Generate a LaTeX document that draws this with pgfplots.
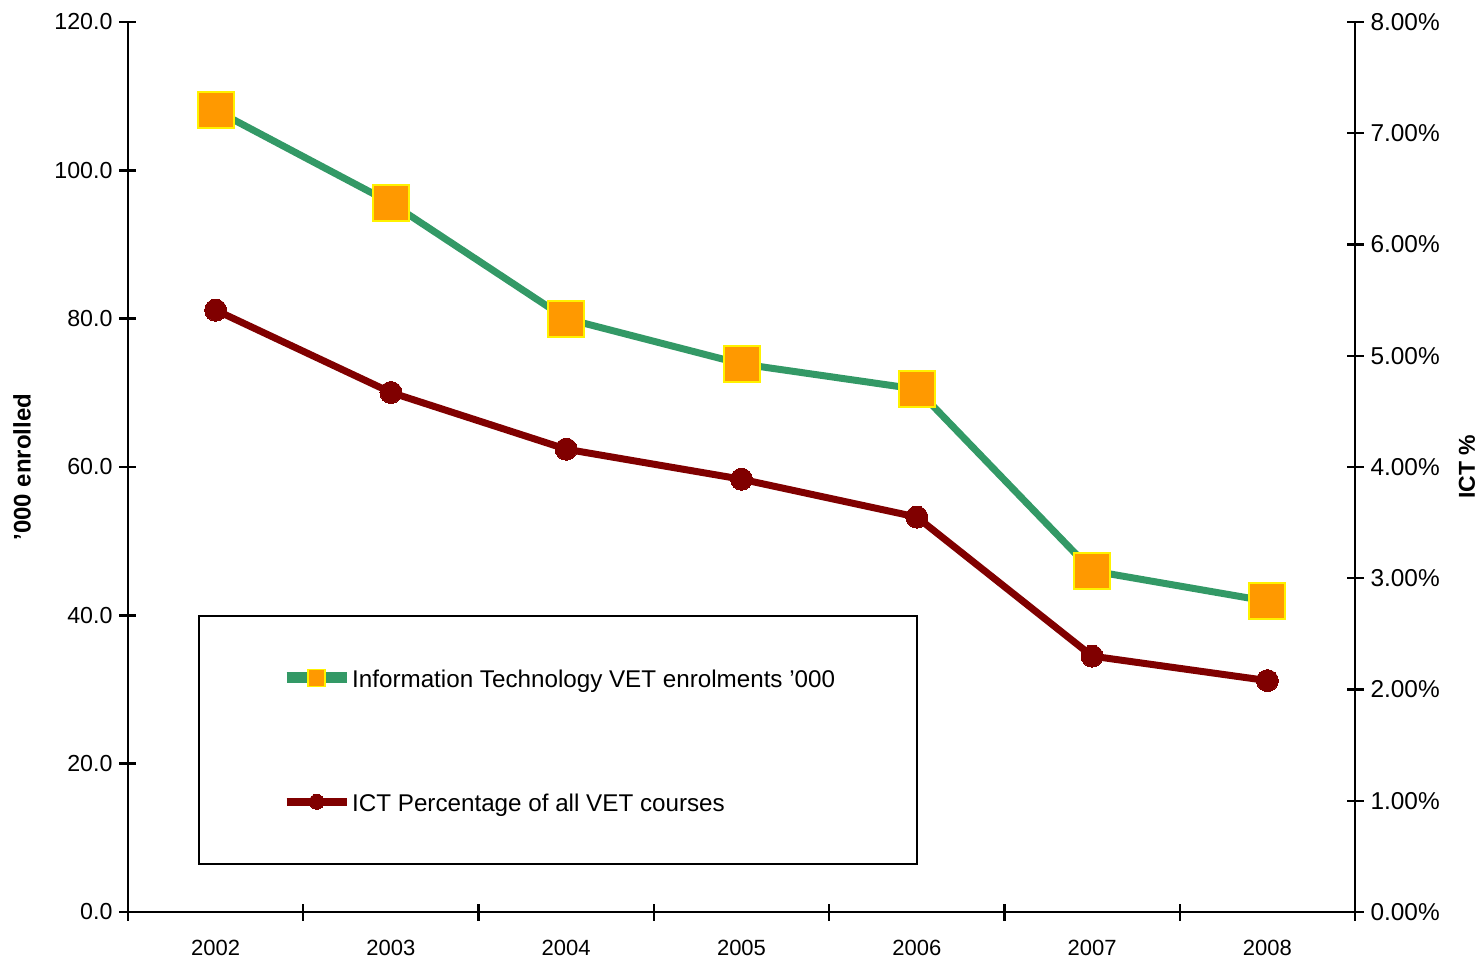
\documentclass[border=0pt]{standalone}
\usepackage{fontspec}
\setmainfont{Liberation Sans}
\usepackage{pgfplots}
\pgfplotsset{compat=1.18}
\definecolor{itgreen}{RGB}{51,153,102}
\definecolor{ictred}{RGB}{128,0,0}
\definecolor{mkorange}{RGB}{255,153,0}
\begin{document}
\begin{tikzpicture}
\useasboundingbox (-64bp,-25.5bp) rectangle (678bp,456bp);
\pgfplotsset{
 common/.style={
  scale only axis, width=613.5bp, height=445bp, at={(0,0)}, anchor=south west,
  xmin=-0.5, xmax=6.5, ymin=0, clip=false,
  /pgf/number format/assume math mode=true,
  tick label style={font=\fontsize{11bp}{13bp}\selectfont, text=black},
  every tick/.style={black, line width=1.2bp},
  tick align=center,
  major tick length=8.5bp,
 },
 itstyle/.style={itgreen, line width=3.5bp, mark=square*, mark size=9bp,
   mark options={fill=mkorange, draw=yellow, line width=1bp, solid}},
 ictstyle/.style={ictred, line width=3.5bp, mark=*, mark size=5.5bp,
   mark options={fill=ictred, draw=ictred, line width=0pt, solid}},
}
\begin{axis}[common, axis x line=bottom, axis y line=left,
  x axis line style={line width=1.2bp, black, -},
  y axis line style={line width=1.2bp, black, -},
  ymax=120,
  ytick={0,20,...,120},
  yticklabel={\pgfmathprintnumber[fixed,fixed zerofill,precision=1]{\tick}},
  yticklabel style={font=\fontsize{11.6bp}{13bp}\selectfont},
  xtick={-0.5,0.5,...,6.5}, xticklabels={},
  extra x ticks={0,1,2,3,4,5,6},
  extra x tick labels={2002,2003,2004,2005,2006,2007,2008},
  extra x tick style={major tick length=0pt, xticklabel style={yshift=-10.5bp}},
  ylabel={'000 enrolled},
  ylabel style={at={(axis description cs:-0.0864,0.5)}, anchor=center,
    font=\bfseries\fontsize{12bp}{14bp}\selectfont},
]
\addplot[itstyle] coordinates {(0,108.1) (1,95.6) (2,80.0) (3,73.9) (4,70.5) (5,46.0) (6,41.9)};
\end{axis}
\begin{axis}[common, axis x line=none, axis y line=right,
  y axis line style={line width=1.2bp, black, -},
  ymax=8,
  ytick={0,1,...,8},
  yticklabel={\pgfmathprintnumber[fixed,fixed zerofill,precision=2]{\tick}\%},
  yticklabel style={font=\fontsize{12.2bp}{14bp}\selectfont},
  ylabel={ICT \%},
  ylabel style={at={(axis description cs:1.0913,0.5)}, anchor=center,
    font=\bfseries\fontsize{11.5bp}{14bp}\selectfont},
  legend cell align=left,
  legend image code/.code={
    \draw[#1, mark=none] (0bp,0bp) -- (30bp,0bp);
    \draw[#1, only marks] plot coordinates {(15bp,0bp)};
  },
  legend style={at={(rel axis cs:0.05705,0.0528)}, anchor=south west,
    draw=black, line width=1.2bp, inner xsep=41bp, inner ysep=26bp,
    row sep=52bp, column sep=0pt,
    font=\fontsize{12.1bp}{14bp}\selectfont,
    nodes={inner sep=0pt, text height=10bp, text depth=0bp}},
]
\addlegendimage{itgreen, line width=5.5bp, mark=square*, mark size=4.25bp, mark options={fill=mkorange, draw=yellow, line width=0.8bp, solid}}
\addlegendentry{Information Technology VET enrolments '000}
\addplot[ictstyle, forget plot] coordinates {(0,5.41) (1,4.67) (2,4.16) (3,3.89) (4,3.55) (5,2.30) (6,2.08)};
\addlegendimage{ictred, line width=4bp, mark=*, mark size=3.75bp, mark options={fill=ictred, draw=ictred, line width=0pt, solid}}
\addlegendentry{ICT Percentage of all VET courses}
\end{axis}
\end{tikzpicture}
\end{document}
